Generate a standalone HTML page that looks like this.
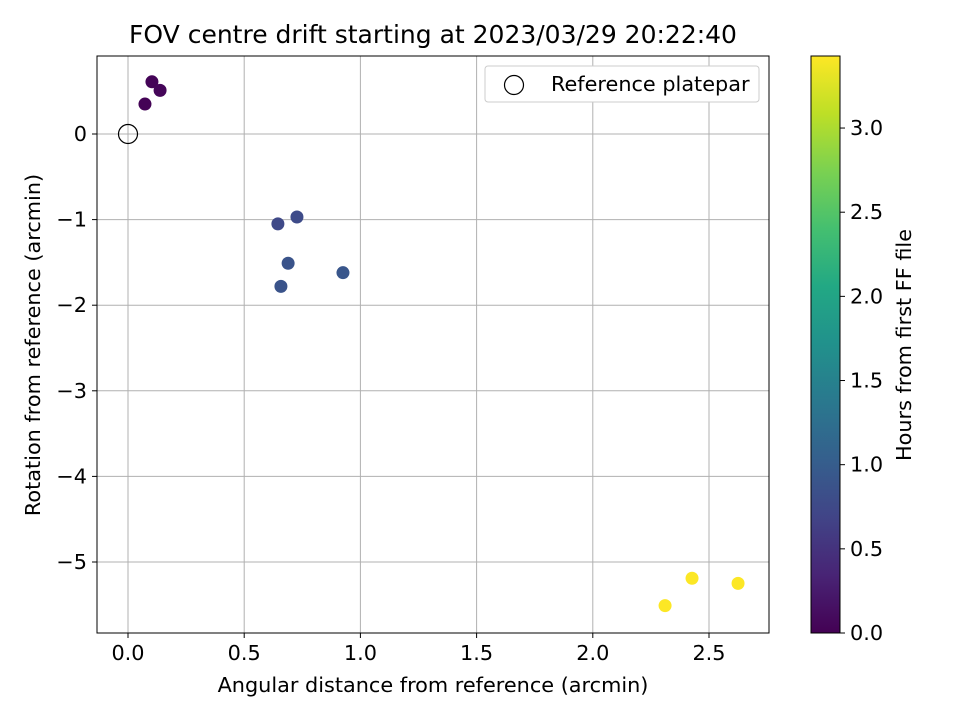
<!DOCTYPE html>
<html><head><meta charset="utf-8"><style>
body{margin:0;background:#fff;}
svg text{font-family:"DejaVu Sans","Liberation Sans",sans-serif;fill:#000;}
</style></head><body>
<svg id="chart" width="960" height="720" xmlns="http://www.w3.org/2000/svg">
<defs>
<linearGradient id="vir" x1="0" y1="1" x2="0" y2="0">
<stop offset="0" stop-color="#440154"/><stop offset="0.1" stop-color="#482475"/><stop offset="0.2" stop-color="#414487"/><stop offset="0.3" stop-color="#355f8d"/><stop offset="0.4" stop-color="#2a788e"/><stop offset="0.5" stop-color="#21918c"/><stop offset="0.6" stop-color="#22a884"/><stop offset="0.7" stop-color="#44bf70"/><stop offset="0.8" stop-color="#7ad151"/><stop offset="0.9" stop-color="#bddf26"/><stop offset="1" stop-color="#fde725"/>
</linearGradient>
</defs>
<text x="433" y="43" style="font-size:25px" text-anchor="middle">FOV centre drift starting at 2023/03/29 20:22:40</text>
<g id="grid"></g>
<g id="axes"></g>
<g id="points"></g>
<rect x="97" y="56" width="672" height="577" fill="none" stroke="#000" stroke-width="1"/>
<text x="433" y="692" style="font-size:20.8px" text-anchor="middle">Angular distance from reference (arcmin)</text>
<text transform="translate(40,345) rotate(-90)" style="font-size:20.8px" text-anchor="middle">Rotation from reference (arcmin)</text>
<g>
<rect x="485" y="66" width="274" height="36" rx="3" fill="#fff" stroke="#ccc"/>
<circle cx="514" cy="85" r="9.5" fill="none" stroke="#000" stroke-width="1.2"/>
<text x="551" y="91" style="font-size:20.8px">Reference platepar</text>
</g>
<rect x="811" y="56" width="29" height="577" fill="url(#vir)" stroke="#000" stroke-width="1"/>
<g id="cbticks"></g>
<text transform="translate(911,345) rotate(-90)" style="font-size:20.8px" text-anchor="middle">Hours from first FF file</text>
</svg>
<script>
const xVals=[0.103,0.138,0.073,0.645,0.727,0.689,0.658,0.925,2.311,2.427,2.625];
const yVals=[0.61,0.51,0.35,-1.05,-0.97,-1.51,-1.78,-1.62,-5.51,-5.19,-5.25];
const hours=[0.03,0.05,0.02,0.75,0.78,0.88,0.88,0.92,3.42,3.42,3.42];
const xTicks=[0,0.5,1.0,1.5,2.0,2.5];
const xTickLabels=["0.0","0.5","1.0","1.5","2.0","2.5"];
const yTicks=[0,-1,-2,-3,-4,-5];
const yTickLabels=["0","−1","−2","−3","−4","−5"];
const cTicks=[0,0.5,1,1.5,2,2.5,3];
const cTickLabels=["0.0","0.5","1.0","1.5","2.0","2.5","3.0"];
const cMax=3.428;
const NS="http://www.w3.org/2000/svg";
const X=v=>128+v*232.4, Y=v=>134-v*85.6, C=v=>633-v/cMax*577;
const stops=["#440154","#482475","#414487","#355f8d","#2a788e","#21918c","#22a884","#44bf70","#7ad151","#bddf26","#fde725"];
function hex(h){return [1,3,5].map(i=>parseInt(h.substr(i,2),16));}
function vir(t){t=Math.max(0,Math.min(1,t))*10;const i=Math.min(9,Math.floor(t)),f=t-i;const a=hex(stops[i]),b=hex(stops[i+1]);return "rgb("+a.map((v,k)=>Math.round(v+(b[k]-v)*f)).join(",")+")";}
function mk(tag,attrs,parent){const e=document.createElementNS(NS,tag);for(const k in attrs)e.setAttribute(k,attrs[k]);parent.appendChild(e);return e;}
const grid=document.getElementById('grid'),axes=document.getElementById('axes'),pts=document.getElementById('points'),cb=document.getElementById('cbticks');
xTicks.forEach((v,i)=>{
 const l=mk('line',{x1:X(v),x2:X(v),y1:56,y2:633,stroke:'#b0b0b0','stroke-width':1},grid);
 
 
 const t=mk('line',{x1:X(v),x2:X(v),y1:633,y2:638,stroke:'#000'},axes);
 
 
 const tx=mk('text',{x:X(v),y:660,style:'font-size:20.8px','text-anchor':'middle'},axes);tx.textContent=xTickLabels[i];
 
 
});
yTicks.forEach((v,i)=>{
 const l=mk('line',{x1:97,x2:769,y1:Y(v),y2:Y(v),stroke:'#b0b0b0','stroke-width':1},grid);
 
 
 const t=mk('line',{x1:92,x2:97,y1:Y(v),y2:Y(v),stroke:'#000'},axes);
 
 
 const tx=mk('text',{x:87,y:Y(v)+7,style:'font-size:20.8px','text-anchor':'end'},axes);tx.textContent=yTickLabels[i];
 
 
});
cTicks.forEach((v,i)=>{
 const t=mk('line',{x1:840,x2:845,y1:C(v),y2:C(v),stroke:'#000'},cb);
 
 
 const tx=mk('text',{x:850,y:C(v)+7,style:'font-size:20.8px'},cb);tx.textContent=cTickLabels[i];
 
 
});
xVals.forEach((v,i)=>{
 const c=mk('circle',{cx:X(v),cy:Y(yVals[i]),r:6.5,fill:vir(hours[i]/cMax)},pts);
 
 
});
const ref=mk('circle',{cx:X(0),cy:Y(0),r:9.5,fill:'none',stroke:'#000','stroke-width':1.2},pts);


</script>
</body></html>
